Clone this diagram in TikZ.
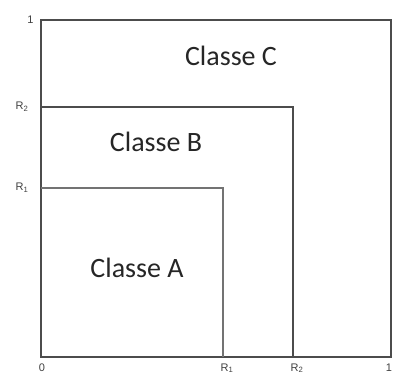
\documentclass[tikz,border=0pt]{standalone}
\usepackage{fontspec}
\setmainfont{Carlito}
\newfontfamily\axisfont{Liberation Sans}
\usetikzlibrary{calc}

\begin{document}
\begin{tikzpicture}[x=1pt,y=-1pt,
    frame/.style={draw=black!70,line width=1.4pt},
    tick/.style={font=\axisfont\fontsize{11}{12}\selectfont,text=black!75},
    classe/.style={font=\fontsize{28}{30}\selectfont,text=black!85}]
    \useasboundingbox (0,0) rectangle (393,381);

    \coordinate[label={[tick,xshift=1pt,yshift=-3pt]below:0}] (O) at (41,357);
    \coordinate[label={[tick,xshift=-4pt]left:1}] (T) at (41,20);
    \coordinate (E) at (391,20);
    \coordinate[label={[tick,xshift=-2pt,yshift=-3pt]below:1}] (X) at (391,357);
    \coordinate[label={[tick,xshift=-9pt]left:R\textsubscript{2}}] (Y2) at (41,107);
    \coordinate[label={[tick,xshift=-9pt]left:R\textsubscript{1}}] (Y1) at (41,188);
    \coordinate[label={[tick,xshift=4pt,yshift=-3pt]below:R\textsubscript{1}}] (X1) at (223,357);
    \coordinate[label={[tick,xshift=4pt,yshift=-3pt]below:R\textsubscript{2}}] (X2) at (293,357);

    \draw[frame] (T) -- (O) -- (X) -- (E) -- cycle;
    \draw[frame] (Y2) -| (X2);
    \draw[frame,line width=1.1pt,draw=black!55] (Y1) -| (X1);

    \node[classe] (C) at (231,56) {Classe C};
    \node[classe] (B) at (156,142) {Classe B};
    \node[classe] (A) at (137,268) {Classe A};
\end{tikzpicture}
\end{document}
